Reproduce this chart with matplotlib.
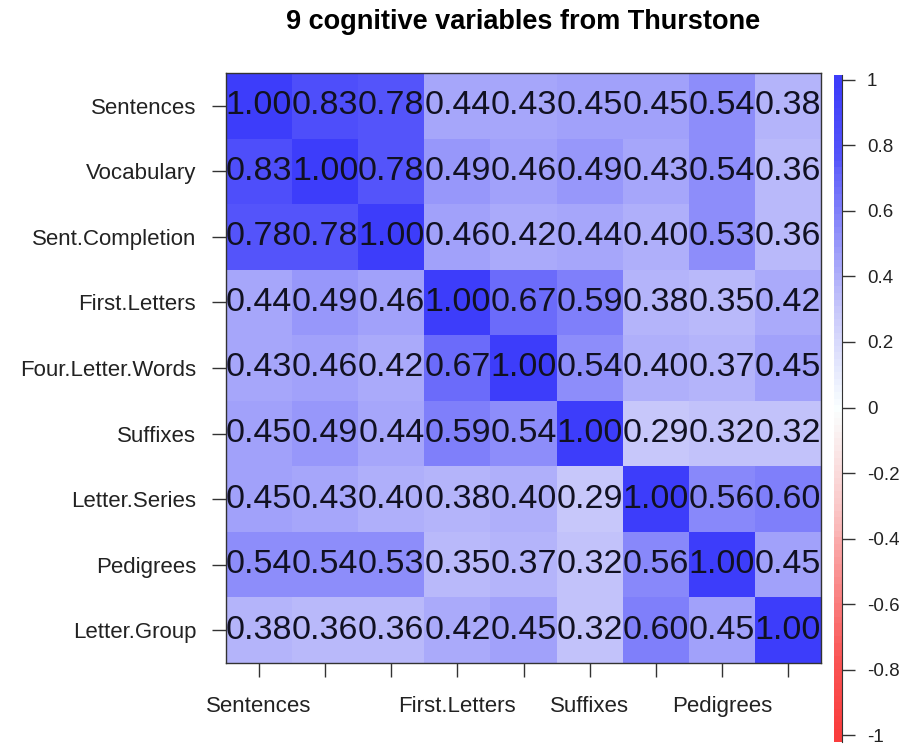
import matplotlib
matplotlib.use("Agg")
import matplotlib.pyplot as plt
from matplotlib.colors import LinearSegmentedColormap
import numpy as np

plt.rcParams['font.family'] = ['Liberation Sans', 'DejaVu Sans']

# Thurstone correlations (9 cognitive variables)
names = ["Sentences", "Vocabulary", "Sent.Completion", "First.Letters",
         "Four.Letter.Words", "Suffixes", "Letter.Series", "Pedigrees",
         "Letter.Group"]
r_sentences = [1.00, 0.83, 0.78, 0.44, 0.43, 0.45, 0.45, 0.54, 0.38]
r_vocabulary = [0.83, 1.00, 0.78, 0.49, 0.46, 0.49, 0.43, 0.54, 0.36]
r_sentcompl = [0.78, 0.78, 1.00, 0.46, 0.42, 0.44, 0.40, 0.53, 0.36]
r_firstlet = [0.44, 0.49, 0.46, 1.00, 0.67, 0.59, 0.38, 0.35, 0.42]
r_fourlet = [0.43, 0.46, 0.42, 0.67, 1.00, 0.54, 0.40, 0.37, 0.45]
r_suffixes = [0.45, 0.49, 0.44, 0.59, 0.54, 1.00, 0.29, 0.32, 0.32]
r_letseries = [0.45, 0.43, 0.40, 0.38, 0.40, 0.29, 1.00, 0.56, 0.60]
r_pedigrees = [0.54, 0.54, 0.53, 0.35, 0.37, 0.32, 0.56, 1.00, 0.45]
r_letgroup = [0.38, 0.36, 0.36, 0.42, 0.45, 0.32, 0.60, 0.45, 1.00]

# x axis only shows the labels that did not overlap
xlabels_shown = ["Sentences", "", "", "First.Letters", "", "Suffixes", "",
                 "Pedigrees", ""]
bar_ticks = [-1, -0.8, -0.6, -0.4, -0.2, 0, 0.2, 0.4, 0.6, 0.8, 1]
bar_labels = ["-1", "-0.8", "-0.6", "-0.4", "-0.2", "0", "0.2", "0.4",
              "0.6", "0.8", "1"]

R = np.array([r_sentences, r_vocabulary, r_sentcompl, r_firstlet, r_fourlet,
              r_suffixes, r_letseries, r_pedigrees, r_letgroup])
n = len(names)

# red - white - blue ramp (washed out, saturating near +-1)
ramp_v = [0.0, 0.3, 0.44, 0.67, 0.78, 1.0]
ramp_c = [1.0, 0.78, 0.65, 0.43, 0.33, 0.24]
nodes = []
for v, c in zip(ramp_v[::-1], ramp_c[::-1]):
    nodes.append(((1 - v) / 2, (0.98, c, c)))
for v, c in zip(ramp_v[1:], ramp_c[1:]):
    nodes.append(((1 + v) / 2, (c, c, 0.98)))
cmap = LinearSegmentedColormap.from_list("rwb", nodes, N=101)

fig = plt.figure(figsize=(9.14, 7.44), dpi=100)
ax = fig.add_axes([226/914, 1-663/744, 595/914, 590/744])
ax.pcolormesh(np.arange(n+1), np.arange(n+1), R, cmap=cmap, vmin=-1, vmax=1)
ax.set_xlim(0, n)
ax.set_ylim(n, 0)

for i in range(n):
    for j in range(n):
        ax.text(j+0.5, i+0.5, "%.2f" % R[i, j], ha='center', va='center',
                fontsize=24.5, color='#111122')

ax.set_xticks(np.arange(n)+0.5)
ax.set_xticklabels(xlabels_shown, fontsize=16)
ax.set_yticks(np.arange(n)+0.5)
ax.set_yticklabels(names, fontsize=16)
ax.tick_params(axis='x', length=10, pad=14, width=1, colors='#333333',
               labelcolor='#222222')
ax.tick_params(axis='y', length=10, pad=11.5, width=1, colors='#333333',
               labelcolor='#222222')
for s in ax.spines.values():
    s.set_color('#333333')
    s.set_linewidth(1)

fig.text(523/914, 1-29/744, "9 cognitive variables from Thurstone",
         ha='center', va='baseline', fontsize=19.5, fontweight='bold')

# colour bar
cax = fig.add_axes([834/914, 1-742/744, 8/914, 667/744])
edges = np.linspace(-1.021, 1.015, 102)
cax.pcolormesh([0, 1], edges, ((edges[:-1]+edges[1:])/2).reshape(-1, 1),
               cmap=cmap, vmin=-1, vmax=1)
cax.set_xlim(0, 1)
cax.set_ylim(-1.021, 1.015)
cax.set_xticks([])
cax.yaxis.tick_right()
cax.set_yticks(bar_ticks)
cax.set_yticklabels(bar_labels, fontsize=13.5)
cax.tick_params(axis='y', length=9, pad=9, width=1, colors='#333333',
                labelcolor='#222222')
for k in ['top', 'bottom', 'left']:
    cax.spines[k].set_visible(False)
cax.spines['right'].set_color('#333333')

plt.savefig("out.png", dpi=100)
